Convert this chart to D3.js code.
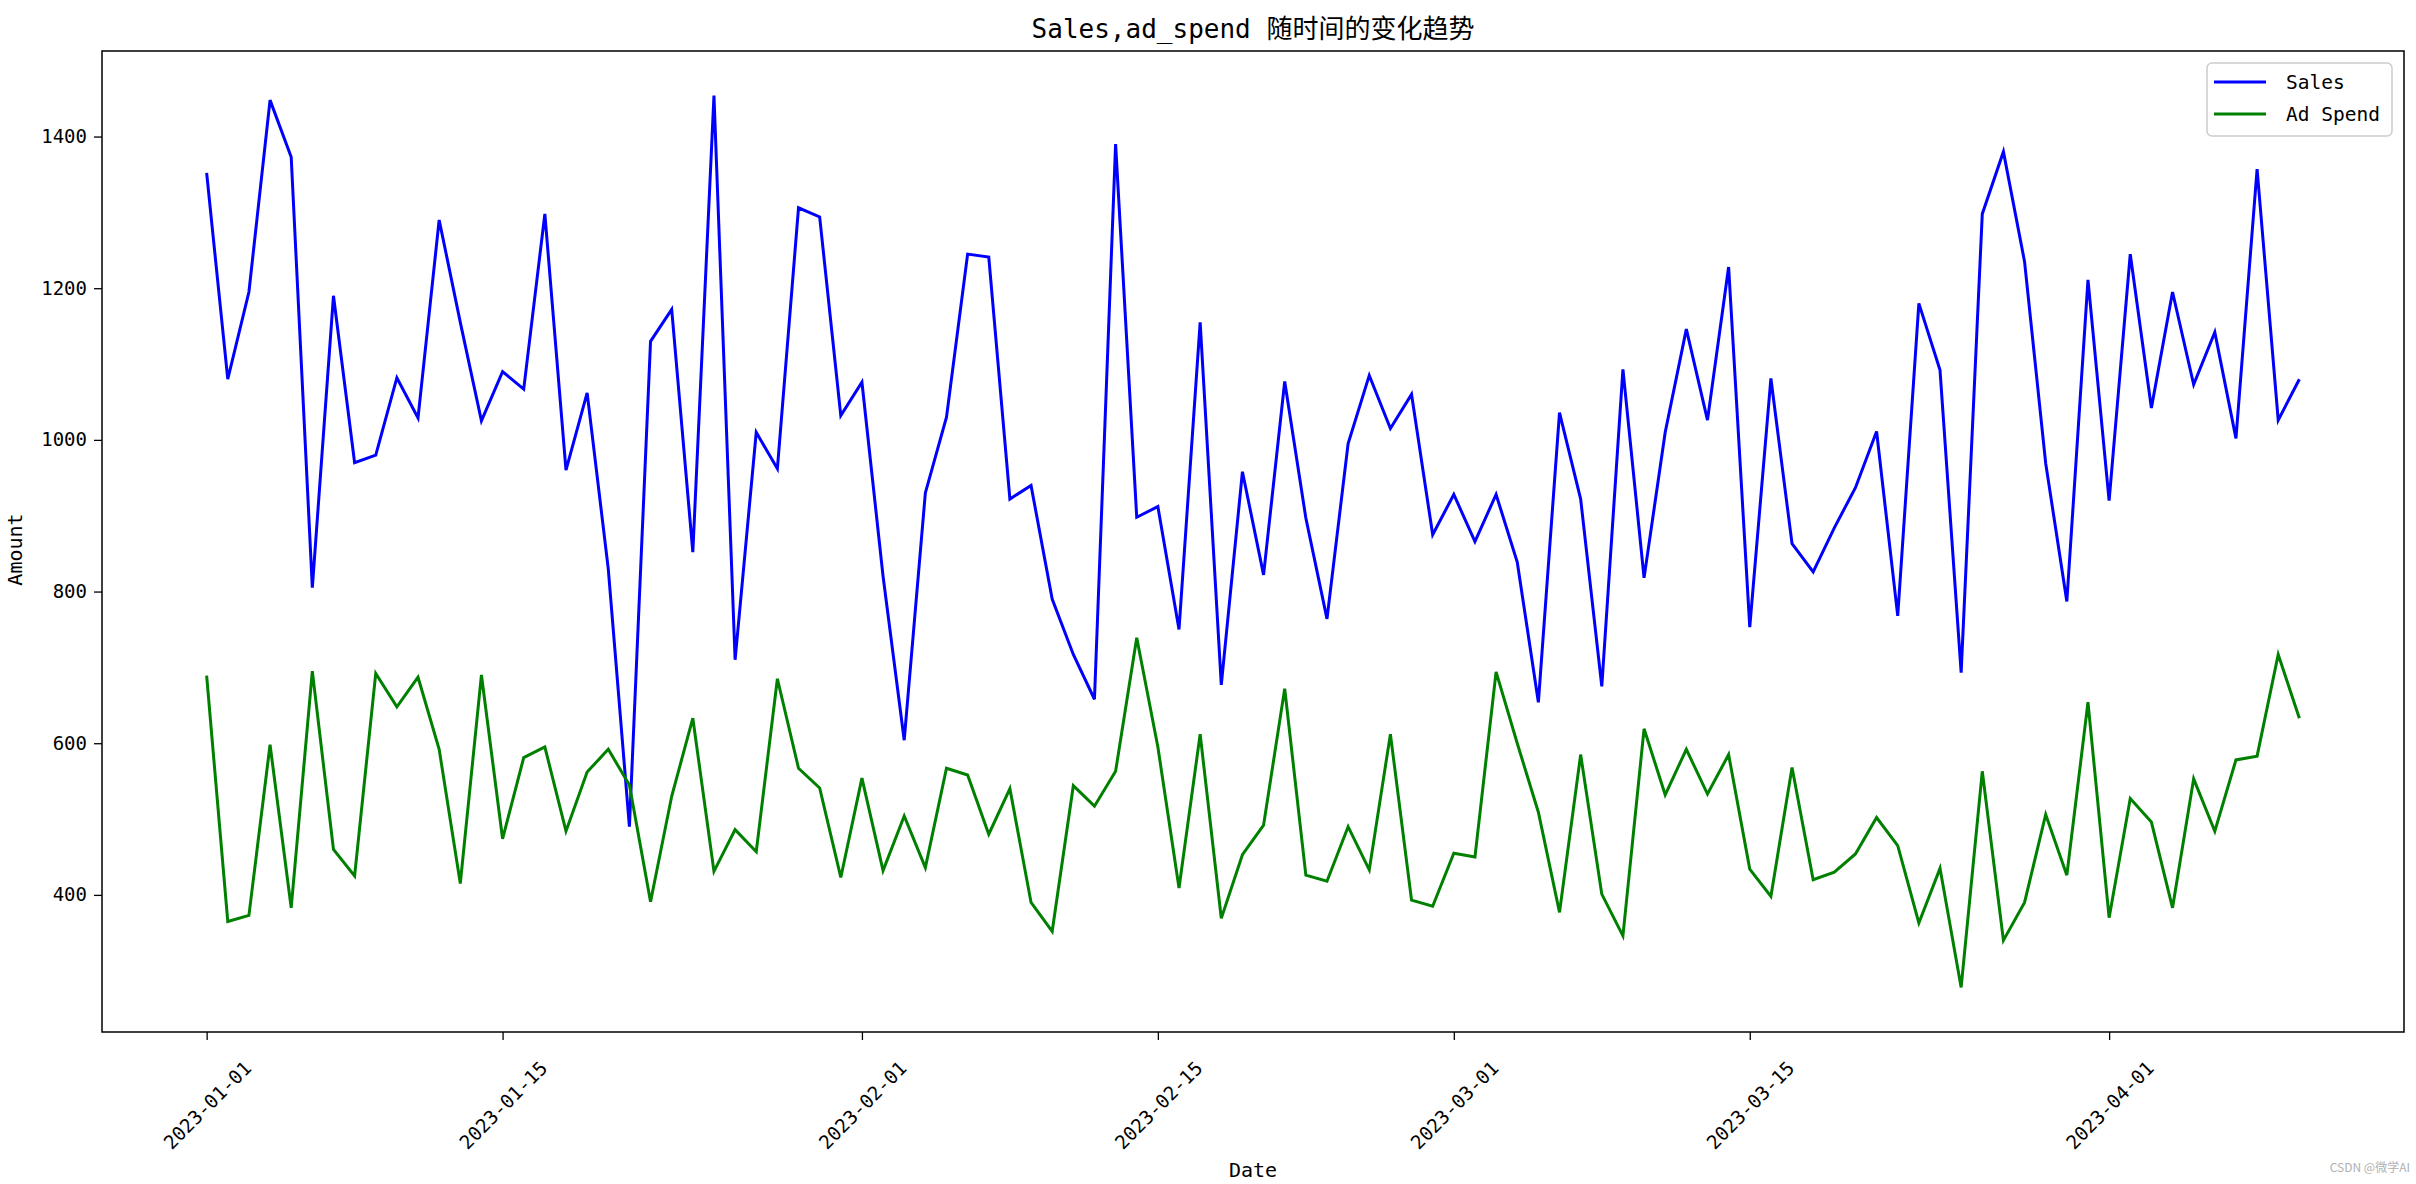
<!DOCTYPE html>
<html>
<head>
<meta charset="utf-8">
<script src="https://cdn.jsdelivr.net/npm/d3@7"></script>
<style>
  html, body { margin: 0; padding: 0; background: #fff; }
  svg { display: block; }
  text { font-family: "DejaVu Sans Mono", "Noto Sans CJK SC", monospace; }
</style>
</head>
<body>
<svg id="chart" width="2416" height="1184"></svg>
<script>
// ---------------- data ----------------
const startDate = "2023-01-01";
const dayCount = 100;
const sales = [
  1352, 1080, 1195, 1448, 1373, 805, 1190, 970, 980, 1082,
  1029, 1290, 1155, 1025, 1090, 1067, 1298, 960, 1062, 830,
  490, 1130, 1172, 852, 1454, 710, 1010, 962, 1306, 1294,
  1032, 1076, 820, 604, 930, 1030, 1245, 1241, 922, 940,
  790, 717, 658, 1390, 898, 912, 750, 1155, 677, 958,
  822, 1077, 897, 764, 995, 1085, 1015, 1060, 875, 928,
  866, 928, 839, 654, 1036, 922, 675, 1093, 818, 1010,
  1146, 1026, 1228, 753, 1081, 863, 826, 884, 937, 1011,
  768, 1180, 1092, 693, 1298, 1380, 1235, 969, 787, 1211,
  920, 1245, 1042, 1195, 1073, 1142, 1002, 1357, 1026, 1080
];
const adSpend = [
  689, 365, 373, 598, 383, 695, 460, 425, 692, 648,
  687, 592, 415, 690, 474, 581, 595, 484, 562, 592,
  545, 391, 530, 633, 431, 486, 457, 685, 567, 541,
  423, 554, 432, 504, 436, 567, 558, 480, 540, 390,
  352, 544, 517, 563, 739, 595, 409, 612, 369, 453,
  492, 672, 426, 418, 490, 433, 612, 393, 385, 455,
  450, 694, 600, 509, 377, 585, 401, 346, 619, 532,
  592, 533, 585, 434, 398, 568, 420, 430, 454, 502,
  465, 363, 435, 278, 563, 340, 390, 506, 426, 654,
  370, 527, 496, 383, 553, 484, 578, 583, 717, 633
];
const seriesNames = ["Sales", "Ad Spend"];
const seriesColors = ["#0000ff", "#008000"];
const yTicks = [400, 600, 800, 1000, 1200, 1400];
const xTickLabels = ["2023-01-01", "2023-01-15", "2023-02-01", "2023-02-15", "2023-03-01", "2023-03-15", "2023-04-01"];
const titleText = "Sales,ad_spend 随时间的变化趋势";
const xLabel = "Date";
const yLabel = "Amount";
const watermark = "CSDN @微学AI";

// ---------------- layout ----------------
const parse = d3.utcParse("%Y-%m-%d");
const t0 = parse(startDate);
const dates = d3.range(dayCount).map(i => d3.utcDay.offset(t0, i));
const plot = { left: 102, right: 2404, top: 51, bottom: 1032 };

const svg = d3.select("#chart");

const xMin = dates[0], xMax = dates[dates.length - 1];
const xPad = (xMax - xMin) * 0.05;
const x = d3.scaleUtc()
  .domain([new Date(+xMin - xPad), new Date(+xMax + xPad)])
  .range([plot.left, plot.right]);

const allVals = sales.concat(adSpend);
const yMinV = d3.min(allVals), yMaxV = d3.max(allVals);
const yPad = (yMaxV - yMinV) * 0.05;
const y = d3.scaleLinear()
  .domain([yMinV - yPad, yMaxV + yPad])
  .range([plot.bottom, plot.top]);

// lines
const line = d3.line()
  .x((d, i) => x(dates[i]))
  .y(d => y(d));

[sales, adSpend].forEach((s, k) => {
  svg.append("path")
    .datum(s)
    .attr("fill", "none")
    .attr("stroke", seriesColors[k])
    .attr("stroke-width", 3)
    .attr("stroke-linejoin", "miter")
    .attr("stroke-miterlimit", 4)
    .attr("d", line);
});

const tickFont = "19px";

// y axis
const yAxis = d3.axisLeft(y).tickValues(yTicks).tickSize(8).tickPadding(7).tickFormat(d3.format("d"));
const gy = svg.append("g").attr("transform", `translate(${plot.left},0)`).call(yAxis);
gy.select(".domain").remove();
gy.selectAll(".tick line").attr("stroke", "#000").attr("stroke-width", 1.3);
gy.selectAll(".tick text").attr("fill", "#000")
  .style("font-size", tickFont)
  .style("font-family", "'DejaVu Sans Mono', monospace");

// x axis
const xTickDates = xTickLabels.map(parse);
const xAxis = d3.axisBottom(x).tickValues(xTickDates).tickSize(8).tickFormat("");
const gx = svg.append("g").attr("transform", `translate(0,${plot.bottom})`).call(xAxis);
gx.select(".domain").remove();
gx.selectAll(".tick line").attr("stroke", "#000").attr("stroke-width", 1.3);
gx.selectAll(".tick").append("text")
  .attr("text-anchor", "middle")
  .attr("dominant-baseline", "central")
  .attr("transform", "translate(0,73) rotate(-45)")
  .attr("fill", "#000")
  .style("font-size", tickFont)
  .text((d, i) => xTickLabels[i]);

// frame
svg.append("rect")
  .attr("x", plot.left).attr("y", plot.top)
  .attr("width", plot.right - plot.left).attr("height", plot.bottom - plot.top)
  .attr("fill", "none").attr("stroke", "#000").attr("stroke-width", 1.5);

// title
svg.append("text")
  .attr("x", (plot.left + plot.right) / 2).attr("y", 38)
  .attr("text-anchor", "middle")
  .style("font-size", "26px")
  .attr("fill", "#000")
  .text(titleText);

// axis labels
svg.append("text")
  .attr("x", (plot.left + plot.right) / 2).attr("y", 1177)
  .attr("text-anchor", "middle")
  .style("font-size", "20px")
  .text(xLabel);
svg.append("text")
  .attr("transform", `translate(22,${(plot.top + plot.bottom) / 2 + 8}) rotate(-90)`)
  .attr("text-anchor", "middle")
  .style("font-size", "20px")
  .text(yLabel);

// legend
const lg = svg.append("g");
lg.append("rect")
  .attr("x", 2207).attr("y", 63).attr("width", 185).attr("height", 73)
  .attr("rx", 5).attr("ry", 5)
  .attr("fill", "#fff").attr("fill-opacity", 0.8)
  .attr("stroke", "#cccccc").attr("stroke-width", 1.5);
seriesNames.forEach((n, k) => {
  const yy = 82 + k * 32;
  lg.append("line").attr("x1", 2214).attr("x2", 2266).attr("y1", yy).attr("y2", yy)
    .attr("stroke", seriesColors[k]).attr("stroke-width", 3);
  lg.append("text").attr("x", 2286).attr("y", yy).attr("dominant-baseline", "central")
    .style("font-size", "19.5px").text(n);
});

// watermark
svg.append("text")
  .attr("x", 2410).attr("y", 1172).attr("text-anchor", "end")
  .attr("fill", "#b0b0b0").style("font-size", "12px")
  .style("font-family", "'Noto Sans CJK SC', sans-serif")
  .text(watermark);
</script>
</body>
</html>
